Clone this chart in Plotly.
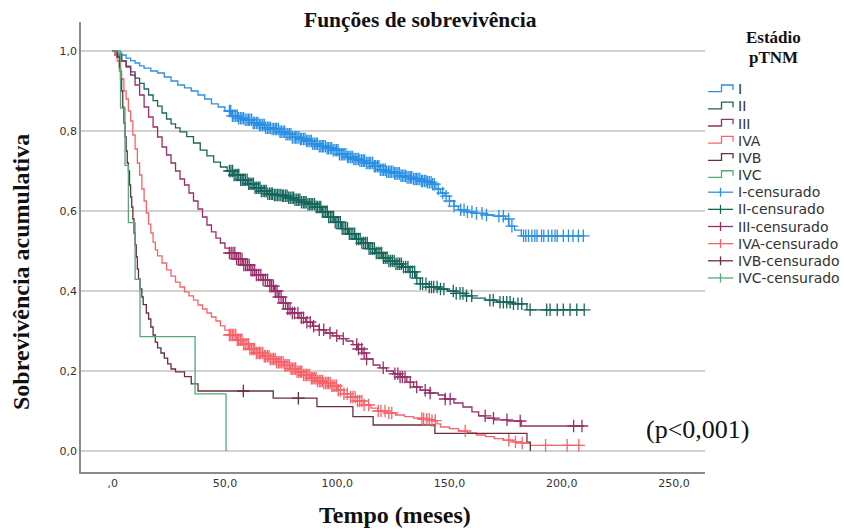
import plotly.graph_objects as go
from bisect import bisect_right

# Kaplan-Meier step curves by pTNM stage: time (months) and cumulative survival
t_I = [0, 2, 4, 6, 8, 10, 12, 14, 17, 20, 23, 26, 29, 32, 35, 38, 41, 44, 47, 50,
       53, 56, 59, 62, 65, 68, 71, 74, 77, 80, 83, 86, 89, 92, 95, 98, 101, 104,
       107, 110, 113, 116, 119, 122, 125, 128, 131, 134, 137, 140, 142, 144, 146,
       148, 150, 152, 154, 158, 162, 166, 170, 175, 176.5, 179, 182, 210]
s_I = [1.0, 0.995, 0.99, 0.982, 0.976, 0.97, 0.963, 0.957, 0.95, 0.945, 0.935,
       0.925, 0.915, 0.908, 0.9, 0.89, 0.88, 0.868, 0.86, 0.85, 0.838, 0.832,
       0.828, 0.82, 0.815, 0.808, 0.805, 0.798, 0.792, 0.784, 0.78, 0.775, 0.768,
       0.762, 0.757, 0.752, 0.742, 0.735, 0.73, 0.726, 0.72, 0.712, 0.703, 0.698,
       0.694, 0.688, 0.684, 0.68, 0.675, 0.672, 0.667, 0.655, 0.645, 0.637, 0.625,
       0.612, 0.603, 0.598, 0.594, 0.59, 0.587, 0.58, 0.562, 0.552, 0.538, 0.538]

t_II = [0, 2, 4, 6, 8, 10, 12, 14, 16, 18, 20, 22, 24, 26, 28, 30, 33, 36, 39, 42,
        45, 48, 51, 54, 57, 60, 63, 66, 69, 72, 75, 78, 81, 84, 87, 90, 93, 96, 99,
        102, 105, 108, 111, 114, 117, 120, 123, 126, 129, 132, 135, 137, 141, 145,
        149, 153, 157, 160, 166, 171, 178, 184.5, 210]
s_II = [1.0, 0.99, 0.975, 0.962, 0.948, 0.932, 0.919, 0.905, 0.89, 0.876, 0.862,
        0.845, 0.83, 0.818, 0.808, 0.798, 0.786, 0.77, 0.752, 0.738, 0.722, 0.71,
        0.7, 0.69, 0.678, 0.668, 0.658, 0.65, 0.643, 0.64, 0.638, 0.633, 0.628,
        0.622, 0.617, 0.61, 0.598, 0.585, 0.572, 0.556, 0.543, 0.53, 0.52, 0.506,
        0.495, 0.483, 0.475, 0.468, 0.46, 0.448, 0.432, 0.418, 0.41, 0.405, 0.4,
        0.394, 0.388, 0.382, 0.377, 0.372, 0.368, 0.353, 0.353]

t_III = [0, 1, 2, 4, 6, 8, 10, 12, 14, 16, 18, 20, 22, 24, 26, 28, 30, 32, 34, 36,
         38, 40, 42, 44, 46, 48, 50, 52, 55, 58, 61, 64, 67, 70, 72, 74, 76, 78, 80,
         83, 86, 89, 92, 95, 98, 101, 104, 107, 109, 111, 113, 116, 119, 122, 125,
         128, 131, 134, 137, 141, 145, 148, 152, 156, 160, 163, 166, 170, 176, 182,
         210]
s_III = [1.0, 0.99, 0.985, 0.975, 0.96, 0.94, 0.915, 0.89, 0.86, 0.835, 0.81,
         0.785, 0.76, 0.74, 0.72, 0.7, 0.68, 0.665, 0.645, 0.625, 0.605, 0.585,
         0.565, 0.548, 0.532, 0.52, 0.507, 0.495, 0.48, 0.465, 0.452, 0.44, 0.428,
         0.412, 0.4, 0.385, 0.37, 0.355, 0.345, 0.333, 0.322, 0.312, 0.303, 0.295,
         0.288, 0.281, 0.275, 0.266, 0.255, 0.245, 0.23, 0.215, 0.208, 0.2, 0.193,
         0.185, 0.172, 0.16, 0.152, 0.145, 0.14, 0.13, 0.12, 0.11, 0.098, 0.088,
         0.082, 0.078, 0.075, 0.0625, 0.0625]

t_IVA = [0, 1, 2, 3, 4, 5, 6, 7, 8, 9, 10, 11, 12, 13, 14, 15, 16, 17, 18, 19, 20,
         22, 24, 26, 28, 30, 32, 34, 36, 38, 40, 42, 44, 46, 48, 50, 52, 55, 58, 61,
         64, 67, 70, 73, 76, 79, 82, 85, 88, 91, 94, 97, 100, 103, 106, 109, 112,
         115, 118, 122, 126, 130, 134, 138, 142, 144.5, 146, 150, 154, 158, 162,
         166, 170, 174, 178, 182, 186, 209]
s_IVA = [1.0, 0.99, 0.975, 0.95, 0.93, 0.9, 0.88, 0.85, 0.825, 0.79, 0.755, 0.72,
         0.69, 0.655, 0.625, 0.595, 0.567, 0.545, 0.522, 0.503, 0.488, 0.47, 0.453,
         0.437, 0.422, 0.41, 0.398, 0.388, 0.377, 0.365, 0.355, 0.345, 0.335,
         0.325, 0.313, 0.302, 0.29, 0.278, 0.267, 0.255, 0.245, 0.237, 0.23, 0.222,
         0.214, 0.206, 0.198, 0.19, 0.182, 0.175, 0.17, 0.163, 0.152, 0.143, 0.135,
         0.125, 0.115, 0.107, 0.1, 0.095, 0.09, 0.086, 0.082, 0.079, 0.076, 0.068,
         0.06, 0.056, 0.05, 0.045, 0.04, 0.036, 0.031, 0.027, 0.023, 0.02, 0.014,
         0.014]

t_IVB = [0, 2, 3, 3.5, 4, 4.5, 5, 5.5, 6, 6.5, 7, 7.5, 8, 8.5, 9, 9.5, 10, 10.5,
         11, 11.5, 12.2, 13, 13.6, 15, 16, 17, 18, 19, 20, 21.5, 23, 24.5, 26, 28,
         32, 35, 38, 71.5, 91, 107, 116, 143.5, 184.5, 186]
s_IVB = [1.0, 0.985, 0.96, 0.93, 0.9, 0.86, 0.82, 0.785, 0.75, 0.72, 0.7, 0.665,
         0.635, 0.61, 0.58, 0.545, 0.515, 0.485, 0.455, 0.43, 0.405, 0.385, 0.366,
         0.345, 0.33, 0.31, 0.29, 0.272, 0.258, 0.245, 0.232, 0.218, 0.205, 0.198,
         0.186, 0.168, 0.15, 0.132, 0.111, 0.086, 0.065, 0.044, 0.022, 0.0]

t_IVC = [0, 3.5, 5.5, 7, 10, 12.2, 36.7, 50.5]
s_IVC = [1.0, 0.857, 0.714, 0.571, 0.429, 0.286, 0.143, 0.0]

# Censoring times (months)
cens_I = [52, 52.6, 53.3, 54, 54.8, 55.5, 56.1, 56.9, 57.6, 58.3, 59, 59.8, 60.5,
          61.1, 61.9, 62.6, 63.2, 64, 64.7, 65.4, 66, 66.8, 67.5, 68.1, 68.9, 69.6,
          70.2, 71, 71.7, 72.4, 73, 73.8, 74.5, 75.1, 75.9, 76.6, 77.2, 78, 78.7,
          79.4, 80, 80.8, 81.5, 82.1, 82.9, 83.6, 84.2, 85, 85.7, 86.4, 87, 87.8,
          88.5, 89.1, 89.9, 90.6, 91.2, 92, 92.7, 93.4, 94, 94.8, 95.5, 96.1, 96.9,
          97.6, 98.2, 99, 99.7, 100.4, 101, 101.8, 102.5, 103.1, 103.9, 104.6,
          105.2, 106, 106.7, 107.4, 108, 108.8, 109.5, 110.1, 110.9, 111.6, 112.2,
          113, 113.7, 114.4, 115, 115.8, 116.5, 117.1, 117.9, 118.6, 119.2, 120,
          120.7, 121.4, 122, 122.8, 123.5, 124.1, 124.9, 125.6, 126.2, 127, 127.7,
          128.4, 129, 129.8, 130.5, 131.1, 131.9, 132.6, 133.2, 134, 134.7, 135.4,
          136, 136.8, 137.5, 138.1, 138.9, 139.6, 140.2, 141, 141.8, 142.5, 143.3,
          145, 147, 148.5, 150, 152, 155, 156.5, 158, 160, 162, 164.5, 166.5, 172,
          174, 176.3, 177.8, 183, 184, 185.2, 186.7, 188, 189, 191, 192, 194,
          195.6, 197, 198, 200.7, 203, 205, 207.4, 209.6]
cens_II = [52, 52.7, 53.4, 54.1, 54.9, 55.6, 56.2, 57, 57.7, 58.4, 59.1, 59.9,
           60.6, 61.2, 62, 62.7, 63.4, 64.1, 64.9, 65.6, 66.2, 67, 67.7, 68.4,
           69.1, 69.9, 70.6, 71.2, 72, 72.7, 73.4, 74.1, 74.9, 75.6, 76.2, 77,
           77.7, 78.4, 79.1, 79.9, 80.6, 81.2, 82, 82.7, 83.4, 84.1, 84.9, 85.6,
           86.2, 87, 87.7, 88.4, 89.1, 89.9, 90.6, 91.2, 92, 92.7, 93.4, 94.1,
           94.9, 95.6, 96.2, 97, 97.7, 98.4, 99.1, 99.9, 100.6, 101.4, 102.2, 103,
           103.8, 104.6, 105.4, 106.2, 107, 107.8, 108.6, 109.4, 110.2, 111, 111.8,
           112.6, 113.4, 114.2, 115, 115.8, 116.6, 117.4, 118.2, 119, 119.8, 120.6,
           121.4, 122.2, 123, 123.8, 124.6, 125.4, 126.2, 127, 127.8, 128.6, 129.5,
           130.5, 131.5, 132.5, 133.5, 134.5, 135.5, 137, 138, 139.5, 141, 142,
           143, 144.5, 146, 147.5, 151.7, 153, 154.7, 156, 157.6, 159.9, 168,
           169.5, 172.5, 174, 175.5, 177, 178.5, 180.5, 182.2, 185.9, 193.3, 194.8,
           198, 200.7, 203.7, 206.7, 210]
cens_III = [52, 52.8, 53.6, 54.4, 55.2, 56, 56.8, 57.6, 58.4, 59.2, 60, 60.8,
            61.6, 62.4, 63.2, 64, 65, 66, 67, 68, 69, 70, 70.8, 71.6, 72.4, 73.2,
            74, 75, 76, 77, 78, 79, 80, 81, 82.5, 84, 85, 86.5, 88, 89.5, 92, 94,
            96.8, 99.8, 102.7, 108.7, 109.5, 110.9, 112, 113.1, 120.5, 125.7, 127,
            128, 129, 130.2, 132.5, 135.4, 139.2, 141.4, 148.1, 150.3, 165.9,
            169.6, 175.6, 181.5, 205.3, 209]
cens_IVA = [52, 52.6, 53.3, 54, 54.8, 55.5, 56.1, 56.9, 57.6, 58.3, 59, 59.8,
            60.5, 61.1, 61.9, 62.6, 63.2, 64, 64.7, 65.4, 66, 66.8, 67.5, 68.1,
            68.9, 69.6, 70.2, 71, 71.7, 72.4, 73, 73.8, 74.5, 75.1, 75.9, 76.6,
            77.2, 78, 78.7, 79.4, 80, 80.8, 81.5, 82.1, 82.9, 83.6, 84.2, 85, 85.7,
            86.4, 87, 87.8, 88.5, 89.1, 89.9, 90.6, 91.2, 92, 92.7, 93.4, 94, 94.8,
            95.5, 96.1, 96.9, 97.6, 98.2, 99, 99.7, 100.5, 101.5, 103, 104.5, 106,
            107, 108, 109, 110, 111, 112, 114, 118.3, 119.5, 121.3, 123, 124.3,
            137.7, 138.5, 139.9, 141, 142.2, 143.7, 157, 176.4, 179.4, 182.4,
            192.8, 202.4, 207.6]
cens_IVB = [58.2, 82.7]
cens_IVC = []

stages = ["I", "II", "III", "IVA", "IVB", "IVC"]
colors = ["#2b8fe3", "#16665c", "#982e68", "#f7636a", "#6c2d3e", "#55aa78"]
curves = [(t_I, s_I, cens_I), (t_II, s_II, cens_II), (t_III, s_III, cens_III),
          (t_IVA, s_IVA, cens_IVA), (t_IVB, s_IVB, cens_IVB), (t_IVC, s_IVC, cens_IVC)]

x_ticks = [0, 50, 100, 150, 200, 250]
x_ticktext = [",0", "50,0", "100,0", "150,0", "200,0", "250,0"]
y_ticks = [0, 0.2, 0.4, 0.6, 0.8, 1.0]
y_ticktext = ["0,0", "0,2", "0,4", "0,6", "0,8", "1,0"]


def surv_at(times, surv, t):
    i = bisect_right(times, t) - 1
    return surv[max(i, 0)]


fig = go.Figure()
for (t, s, c), col in zip(curves, colors):
    fig.add_trace(go.Scatter(x=t, y=s, mode="lines", line=dict(color=col, width=1.3, shape="hv"),
                             showlegend=False, hoverinfo="skip"))
for (t, s, c), col in zip(curves, colors):
    if c:
        fig.add_trace(go.Scatter(x=c, y=[surv_at(t, s, v) for v in c], mode="markers",
                                 marker=dict(symbol="cross-thin", size=9,
                                             line=dict(color=col, width=1.3)),
                                 showlegend=False, hoverinfo="skip"))

# plot area in pixels
L, T, W, H = 81, 22, 624, 450
def px(x):
    return (x - L) / W
def py(y):
    return (T + H - y) / H

shapes = []
annotations = []
serif = "Liberation Serif"
sans = "DejaVu Sans"

# legend: step icons for curves, crosses for censored marks
y0 = 89.3
dy = 17.15
labels = stages + [s + "-censurado" for s in stages]
for i, lab in enumerate(labels):
    yc = y0 + i * dy
    col = colors[i % 6]
    if i < 6:
        path = "M {} {} L {} {} L {} {} L {} {} L {} {}".format(
            px(708), py(yc + 2.4), px(721.5), py(yc + 2.4), px(721.5), py(yc - 4.3),
            px(733), py(yc - 4.3), px(733), py(yc + 0.7))
        shapes.append(dict(type="path", path=path, xref="paper", yref="paper",
                           line=dict(color=col, width=1.3)))
    else:
        shapes.append(dict(type="line", x0=px(708), x1=px(733), y0=py(yc), y1=py(yc),
                           xref="paper", yref="paper", line=dict(color=col, width=1.3)))
        shapes.append(dict(type="line", x0=px(720.5), x1=px(720.5), y0=py(yc - 4.5),
                           y1=py(yc + 4.5), xref="paper", yref="paper",
                           line=dict(color=col, width=1.3)))
    annotations.append(dict(text=lab, x=px(736), y=py(yc), xref="paper", yref="paper",
                            xanchor="left", yanchor="middle", showarrow=False,
                            font=dict(family=sans, size=14, color="#333333")))

annotations += [
    dict(text="<b>Estádio</b>", x=px(773), y=py(37), xref="paper", yref="paper",
         showarrow=False, xanchor="center", yanchor="middle",
         font=dict(family=serif, size=17, color="#111111")),
    dict(text="<b>pTNM</b>", x=px(773), y=py(58), xref="paper", yref="paper",
         showarrow=False, xanchor="center", yanchor="middle",
         font=dict(family=serif, size=17, color="#111111")),
    dict(text="<b>Funções de sobrevivência</b>", x=px(420), y=py(20), xref="paper",
         yref="paper", showarrow=False, xanchor="center", yanchor="middle",
         font=dict(family=serif, size=21.5, color="#111111")),
    dict(text="<b>Sobrevivência acumulativa</b>", x=px(21), y=py(272), xref="paper",
         yref="paper", showarrow=False, xanchor="center", yanchor="middle",
         textangle=-90, font=dict(family=serif, size=24, color="#111111")),
    dict(text="<b>Tempo (meses)</b>", x=px(395), y=py(515), xref="paper", yref="paper",
         showarrow=False, xanchor="center", yanchor="middle",
         font=dict(family=serif, size=24, color="#111111")),
    dict(text="(p<0,001)", x=px(697), y=py(429), xref="paper", yref="paper",
         showarrow=False, xanchor="center", yanchor="middle",
         font=dict(family=serif, size=26, color="#111111")),
]

fig.update_layout(
    width=844, height=531,
    margin=dict(l=L, r=844 - L - W, t=T, b=531 - T - H),
    paper_bgcolor="white", plot_bgcolor="white",
    shapes=shapes, annotations=annotations,
    xaxis=dict(range=[-14.1, 263.8], tickvals=x_ticks, ticktext=x_ticktext,
               showgrid=False, zeroline=False, showline=True, linecolor="#8a8a8a",
               linewidth=1.5, ticks="", tickfont=dict(family=sans, size=11, color="#333333")),
    yaxis=dict(range=[-0.0525, 1.0725], tickvals=y_ticks, ticktext=y_ticktext,
               showgrid=True, gridcolor="#d2d2d2", gridwidth=1.5, zeroline=False,
               showline=True, linecolor="#8a8a8a", linewidth=1.5, ticks="",
               tickfont=dict(family=sans, size=11, color="#333333")),
)

fig.write_html("out.html")
